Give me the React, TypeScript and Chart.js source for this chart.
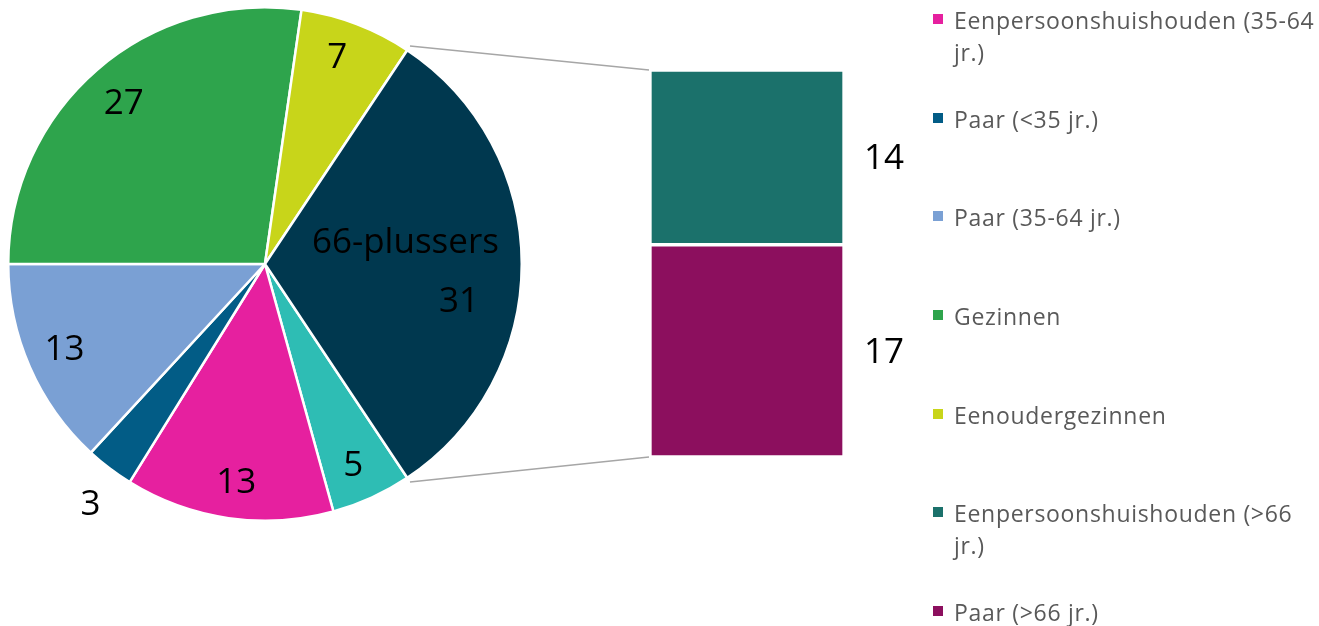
import React, { useEffect, useRef } from 'react';
import { Chart, registerables } from 'chart.js';

Chart.register(...registerables);

// ---- data ----
const pieCategories = [
  'Eenpersoonshuishouden (<35 jr.)',
  'Eenpersoonshuishouden (35-64 jr.)',
  'Paar (<35 jr.)',
  'Paar (35-64 jr.)',
  'Gezinnen',
  'Eenoudergezinnen',
  '66-plussers',
];
const pieValues = [5, 13, 3, 13, 27, 7, 31];
const pieColors = ['#2EBDB4', '#E6209F', '#025C86', '#7AA0D4', '#2EA44C', '#C8D51A', '#00384F'];

const barCategories = ['Eenpersoonshuishouden (>66 jr.)', 'Paar (>66 jr.)'];
const barValues = [14, 17];
const barColors = ['#1B716B', '#8C0F5E'];

const legendCategories = [...pieCategories.slice(1, 6), ...barCategories];
const legendColors = [...pieColors.slice(1, 6), ...barColors];

// label placement (fraction of radius) per pie slice
const labelRadius = [0.86, 0.86, 1.16, 0.85, 0.83, 0.85, 0.77];
// small angular nudges (degrees) per pie slice label
const labelAngleShift = [1, -0.7, -1.4, 0.3, -0.6, -1.6, 11];

const W = 1319;
const H = 626;
const LABEL_FONT = '35px "Open Sans"';

export default function App() {
  const pieRef = useRef<HTMLCanvasElement | null>(null);
  const barRef = useRef<HTMLCanvasElement | null>(null);

  useEffect(() => {
    if (!pieRef.current || !barRef.current) return;
    const total = pieValues.reduce((a, b) => a + b, 0);
    const last = pieValues.length - 1;
    const rotation = 90 + (pieValues[last] / total) * 180;

    const pieLabels = {
      id: 'pieLabels',
      afterDatasetsDraw(chart: any) {
        const ctx = chart.ctx;
        const meta = chart.getDatasetMeta(0);
        ctx.save();
        ctx.font = LABEL_FONT;
        ctx.fillStyle = '#000000';
        ctx.textAlign = 'center';
        ctx.textBaseline = 'middle';
        meta.data.forEach((arc: any, i: number) => {
          const { x, y, startAngle, endAngle, outerRadius } = arc;
          const mid = (startAngle + endAngle) / 2;
          if (i === last) {
            const a1 = mid - (8.5 * Math.PI) / 180;
            const r1 = outerRadius * 0.553;
            ctx.fillText(pieCategories[i], x + Math.cos(a1) * r1, y + Math.sin(a1) * r1);
          }
          const a = mid + (labelAngleShift[i] * Math.PI) / 180;
          const r = outerRadius * labelRadius[i];
          ctx.fillText(String(pieValues[i]), x + Math.cos(a) * r, y + Math.sin(a) * r);
        });
        ctx.restore();
      },
    };

    const pieChart = new Chart(pieRef.current, {
      type: 'pie',
      data: {
        labels: pieCategories,
        datasets: [
          {
            data: pieValues,
            backgroundColor: pieColors,
            borderColor: '#FFFFFF',
            borderWidth: 2.5,
          },
        ],
      },
      options: {
        responsive: false,
        animation: false,
        rotation,
        layout: { padding: { left: 7, top: 6, right: W - 523, bottom: H - 522 } },
        plugins: { legend: { display: false }, tooltip: { enabled: false } },
      },
      plugins: [pieLabels],
    });

    const barDatasets = barCategories
      .map((c, i) => ({
        label: c,
        data: [barValues[i]],
        backgroundColor: barColors[i],
        borderColor: '#FFFFFF',
        borderWidth: 2,
        borderSkipped: false as const,
        barPercentage: 1,
        categoryPercentage: 1,
      }))
      .reverse();

    const barExtras = {
      id: 'barExtras',
      afterDatasetsDraw(chart: any) {
        const ctx = chart.ctx;
        ctx.save();
        // value labels
        ctx.font = LABEL_FONT;
        ctx.fillStyle = '#000000';
        ctx.textAlign = 'center';
        ctx.textBaseline = 'middle';
        chart.data.datasets.forEach((ds: any, di: number) => {
          const el: any = chart.getDatasetMeta(di).data[0];
          ctx.fillText(String(ds.data[0]), el.x + el.width / 2 + 40, (el.y + el.base) / 2 + 2);
        });
        // connector lines
        const arc: any = pieChart.getDatasetMeta(0).data[last];
        const topEl: any = chart.getDatasetMeta(chart.data.datasets.length - 1).data[0];
        const botEl: any = chart.getDatasetMeta(0).data[0];
        const left = topEl.x - topEl.width / 2;
        const r = arc.outerRadius + 5;
        ctx.strokeStyle = '#A6A6A6';
        ctx.lineWidth = 1.5;
        ctx.beginPath();
        ctx.moveTo(arc.x + Math.cos(arc.startAngle) * r, arc.y + Math.sin(arc.startAngle) * r);
        ctx.lineTo(left - 1, topEl.y);
        ctx.moveTo(arc.x + Math.cos(arc.endAngle) * r, arc.y + Math.sin(arc.endAngle) * r);
        ctx.lineTo(left - 1, botEl.base);
        ctx.stroke();
        ctx.restore();
      },
    };

    const barChart = new Chart(barRef.current, {
      type: 'bar',
      data: { labels: ['66-plussers'], datasets: barDatasets },
      options: {
        responsive: false,
        animation: false,
        layout: { padding: { left: 650, right: W - 844, top: 70, bottom: H - 457 } },
        scales: {
          x: { display: false, stacked: true },
          y: { display: false, stacked: true, min: 0, max: pieValues[last] },
        },
        plugins: { legend: { display: false }, tooltip: { enabled: false } },
      },
      plugins: [barExtras],
    });

    return () => {
      barChart.destroy();
      pieChart.destroy();
    };
  }, []);

  const LEGEND_TOP = 20;
  const LEGEND_STEP = 98.67;
  const LINE_H = 32;

  return (
    <div style={{ position: 'absolute', left: 0, top: 0, width: W, height: H, background: '#FFFFFF', overflow: 'hidden' }}>
      <canvas ref={pieRef} width={W} height={H} style={{ position: 'absolute', left: 0, top: 0 }} />
      <canvas ref={barRef} width={W} height={H} style={{ position: 'absolute', left: 0, top: 0 }} />
      {legendCategories.map((c, i) => (
        <div
          key={c}
          style={{
            position: 'absolute',
            left: 933,
            top: LEGEND_TOP + i * LEGEND_STEP - LINE_H / 2,
            width: W - 933,
            fontFamily: '"Open Sans", sans-serif',
            fontSize: 23,
            letterSpacing: 0.7,
            lineHeight: `${LINE_H}px`,
            color: '#595959',
          }}
        >
          <span
            style={{
              position: 'absolute',
              left: 0,
              top: LINE_H / 2 - 6,
              width: 10,
              height: 10,
              background: legendColors[i],
            }}
          />
          <div style={{ marginLeft: 21, width: 363 }}>{c}</div>
        </div>
      ))}
    </div>
  );
}
